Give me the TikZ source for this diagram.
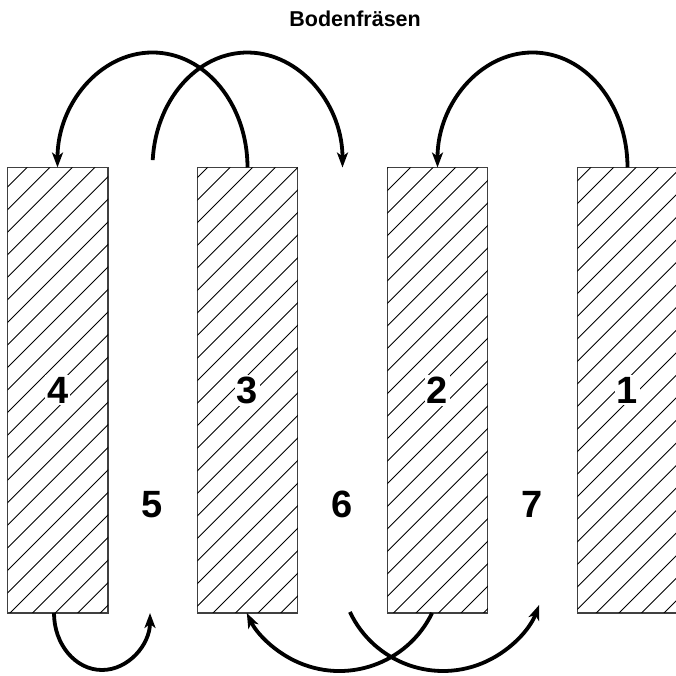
\documentclass[tikz,border=0pt]{standalone}
\usepackage{fontspec}
\setmainfont{Liberation Sans}
\usetikzlibrary{arrows.meta}
\begin{document}
\begin{tikzpicture}[x=1pt,y=1pt,
  rectbox/.style={draw=black!75, line width=1.2pt, minimum width=100.5pt, minimum height=445.5pt, inner sep=0pt, outer sep=0pt},
  hatchline/.style={line width=0.9pt},
  numlabel/.style={font=\fontsize{38}{38}\selectfont\bfseries, fill=white, inner sep=2pt},
  titlelabel/.style={font=\fontsize{21.5}{21.5}\selectfont\bfseries, anchor=base east, inner sep=0pt},
  flow/.style={line width=3.8pt, -{Stealth[length=15pt,width=11pt,inset=4pt]}},
]
\useasboundingbox (0,0) rectangle (675,676);

% strips
\node[rectbox] (r4) at (57.75,285.75) {};
\node[rectbox] (r3) at (247.5,285.75) {};
\node[rectbox] (r2) at (437.5,285.75) {};
\node[rectbox] (r1) at (627.5,285.75) {};

% hatching
\begin{scope}
  \clip (r4.south west) rectangle (r4.north east)
        (r3.south west) rectangle (r3.north east)
        (r2.south west) rectangle (r2.north east)
        (r1.south west) rectangle (r1.north east);
  \foreach \k in {0,...,61} {
    \draw[hatchline] ({14.2+22.55*\k-676},0) -- ({14.2+22.55*\k},676);
  }
\end{scope}

% numbers
\node[numlabel] (n4) at (r4) {4};
\node[numlabel] (n3) at (r3) {3};
\node[numlabel] (n2) at (r2) {2};
\node[numlabel] (n1) at (r1) {1};
\node[numlabel] (n5) at (152.5,171.5) {5};
\node[numlabel] (n6) at (342.5,171.5) {6};
\node[numlabel] (n7) at (532.5,171.5) {7};

% title
\node[titlelabel] (title) at (421,649.3) {Bodenfräsen};

% top arcs
\coordinate (b1) at (152.7,515.9);
\draw[flow] (r3.north) arc[start angle=0, end angle=180, x radius=95, y radius=115];
\draw[flow] (b1) arc[start angle=176.3, end angle=0, x radius=95, y radius=115];
\draw[flow] (r1.north) arc[start angle=0, end angle=180, x radius=95, y radius=115];

% bottom arcs
\coordinate (d1) at (54,63);
\coordinate (e1) at (432.1,63);
\coordinate (f1) at (349.9,64);
\draw[flow] (d1) arc[start angle=180, end angle=360, x radius=48, y radius=57];
\draw[flow] (e1) arc[start angle=-25.9, end angle=-154.1, radius=103];
\draw[flow] (f1) arc[start angle=-154.7, end angle=-21, radius=103];
\end{tikzpicture}
\end{document}
